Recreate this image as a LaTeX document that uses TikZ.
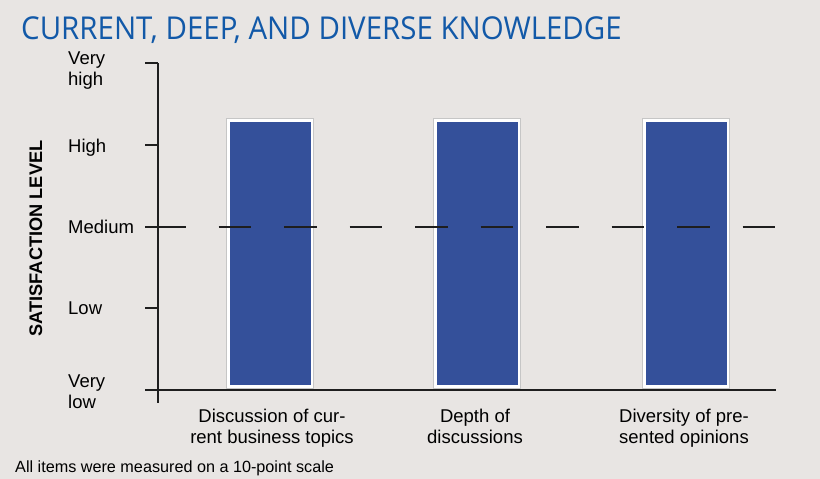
\documentclass[tikz,border=0pt]{standalone}
\usepackage{fontspec}
\setmainfont{Liberation Sans}
\newfontfamily\titlefont{Open Sans}
\usetikzlibrary{positioning}

\definecolor{bgcol}{RGB}{232,229,227}
\definecolor{titleblue}{RGB}{18,89,168}
\definecolor{barblue}{RGB}{52,80,154}
\definecolor{axisgray}{RGB}{30,30,30}

\begin{document}
\begin{tikzpicture}[x=1pt, y=-1pt,
    axis/.style={draw=axisgray, line width=1.3pt},
    refline/.style={draw=axisgray, line width=1.3pt, dash pattern=on 32.75pt off 32.75pt},
    ylab/.style={anchor=base west, inner sep=0pt, align=left, font=\fontsize{18.5}{21}\selectfont},
    xlab/.style={anchor=base, inner sep=0pt, align=center, font=\fontsize{18.5}{21}\selectfont},
    bar/.style={fill=barblue}
    ]

    % background and frame
    \fill[bgcol] (0,0) rectangle (820,479);
    \useasboundingbox (0,0) rectangle (820,479);

    % title
    \node[anchor=base west, inner sep=0pt, text=titleblue] (title) at (21,39.5)
        {\scalebox{0.935}[1]{\titlefont\fontsize{31.5}{31}\selectfont CURRENT, DEEP, AND DIVERSE KNOWLEDGE}};

    % axes
    \coordinate (ytop) at (158,63);
    \coordinate (ybot) at (158,403);
    \coordinate (xleft) at (145,390);
    \coordinate (xright) at (776,390);
    \path[axis] (ytop) -- (ybot);
    \path[axis] (xleft) -- (xright);

    % ticks
    \foreach \yy in {63,145,227,308}
        \path[axis] (145,\yy) -- (158,\yy);

    % bars
    \foreach \cx in {270,477,686} {
        \fill[gray!45] (\cx-44,118) rectangle (\cx+44,389);
        \fill[white] (\cx-43,119) rectangle (\cx+43,388);
        \fill[bar] (\cx-40.5,122) rectangle (\cx+40.5,385);
    }

    % medium reference line (over the bars)
    \coordinate (mleft) at (153,227);
    \coordinate (mright) at (776,227);
    \path[refline] (mleft) -- (mright);

    % level labels (base = last line)
    \node[ylab] (veryhigh) at (68,85) {Very\\high};
    \node[ylab] (high) at (68,152) {High};
    \node[ylab] (medium) at (68,233) {Medium};
    \node[ylab] (low) at (68,314) {Low};
    \node[ylab] (verylow) at (68,408) {Very\\low};

    % axis title
    \node[anchor=base, rotate=90, inner sep=0pt, font=\bfseries\fontsize{18.2}{18}\selectfont] (ytitle) at (42,238.5) {SATISFACTION LEVEL};

    % item labels
    \node[xlab] (topics) at (272,443) {Discussion of cur-\\rent business topics};
    \node[xlab] (depth) at (475,443) {Depth of\\discussions};
    \node[xlab] (diversity) at (684,443) {Diversity of pre-\\sented opinions};

    % note
    \node[anchor=base west, inner sep=0pt, font=\fontsize{16.2}{16}\selectfont] (note) at (15,472) {All items were measured on a 10-point scale};

\end{tikzpicture}
\end{document}
